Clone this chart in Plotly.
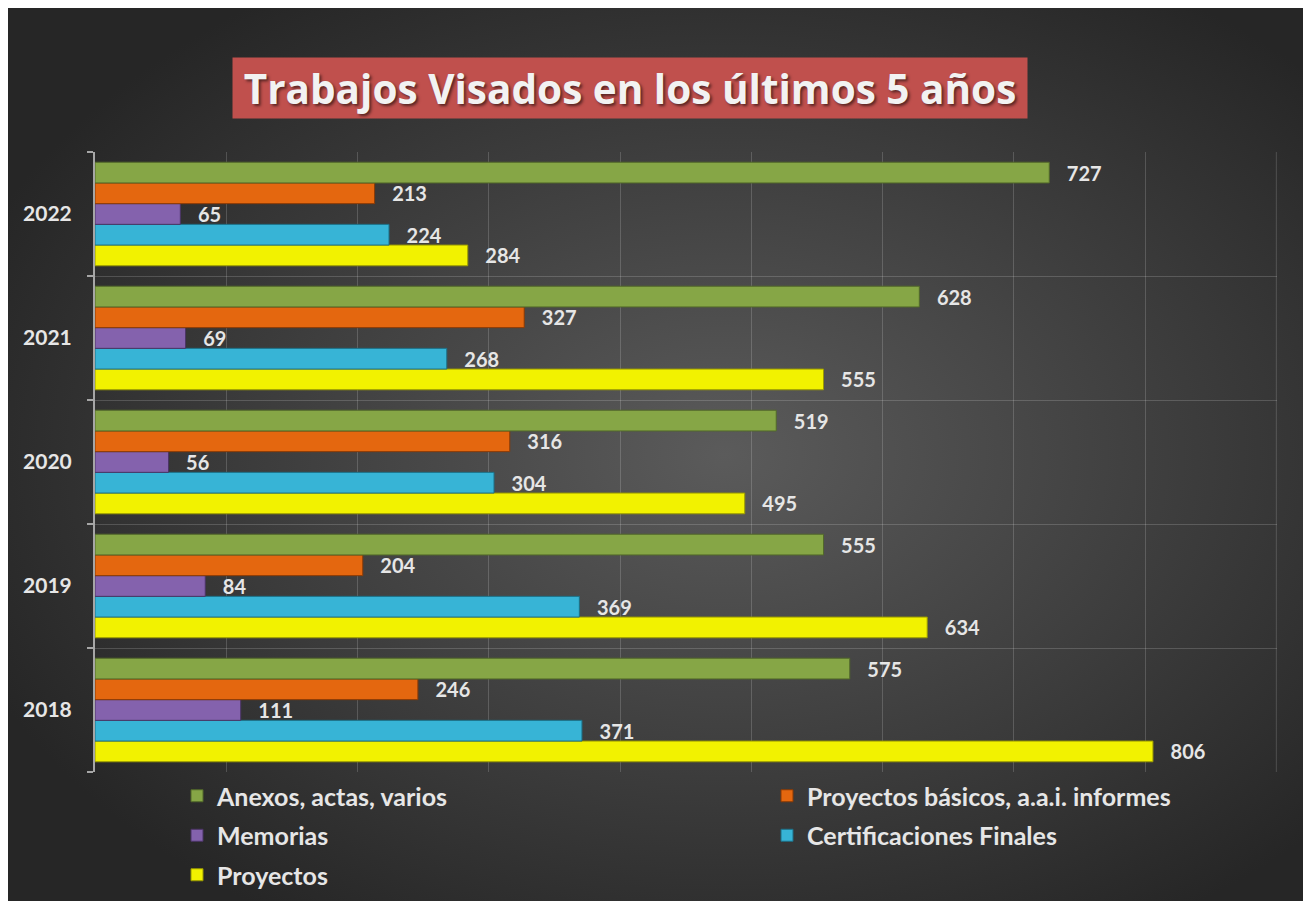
import base64
import plotly.graph_objects as go

years = ["2018", "2019", "2020", "2021", "2022"]
anexos = [575, 555, 519, 628, 727]
basicos = [246, 204, 316, 327, 213]
memorias = [111, 84, 56, 69, 65]
certificaciones = [371, 369, 304, 268, 224]
proyectos = [806, 634, 495, 555, 284]

# (name, values, fill, edge, legend, rank) -- bottom-most bar first
series = [
    ("Proyectos", proyectos, "#f2f200", "#9a9a00", "legend", 5),
    ("Certificaciones Finales", certificaciones, "#37b4d6", "#1d6f86", "legend2", 4),
    ("Memorias", memorias, "#8462ad", "#4b3566", "legend", 3),
    ("Proyectos básicos, a.a.i. informes", basicos, "#e4670f", "#8a3a05", "legend2", 2),
    ("Anexos, actas, varios", anexos, "#86a646", "#52692a", "legend", 1),
]

FONT = "Lato"
TXT = "#e6e6e6"
GRID = "rgba(255,255,255,0.17)"

fig = go.Figure()
for name, vals, fill, edge, leg, rank in series:
    fig.add_trace(go.Bar(
        y=years, x=vals, name=name, orientation="h",
        marker=dict(color=fill, line=dict(color=edge, width=1)),
        text=[f"   {v}" for v in vals], textposition="outside",
        constraintext="none", cliponaxis=False,
        textfont=dict(family=FONT, size=20, color=TXT, weight="bold"),
        legend=leg, legendgroup=name, legendrank=rank,
    ))

W, H = 1303, 893
L, R, T, B = 87, 1269, 144, 764
pw, ph = R - L, B - T

def px(x):
    return (x - L) / pw

def py(y):
    return (B - y) / ph

svg = (
    f'<svg xmlns="http://www.w3.org/2000/svg" width="{W}" height="{H}" preserveAspectRatio="none">'
    '<defs><radialGradient id="g" cx="0.55" cy="0.5" r="0.62">'
    '<stop offset="0" stop-color="#5b5b5b"/><stop offset="1" stop-color="#262626"/>'
    f'</radialGradient></defs><rect width="{W}" height="{H}" fill="url(#g)"/></svg>'
)
src = "data:image/svg+xml;base64," + base64.b64encode(svg.encode()).decode()

legfont = dict(family=FONT, size=25, color=TXT, weight="bold")

fig.update_layout(
    width=W, height=H,
    margin=dict(l=L, r=W - R, t=T, b=H - B, autoexpand=False),
    paper_bgcolor="#333333", plot_bgcolor="rgba(0,0,0,0)",
    barmode="group", bargap=0.165, bargroupgap=0,
    font=dict(family=FONT, color=TXT),
    images=[dict(source=src, xref="paper", yref="paper", x=px(0), y=py(0),
                 sizex=W / pw, sizey=H / ph, xanchor="left", yanchor="top",
                 sizing="stretch", layer="below")],
    xaxis=dict(range=[0, 900.5], dtick=100, showgrid=True, gridcolor=GRID,
               gridwidth=1, zeroline=False, showticklabels=False, showline=False, fixedrange=True),
    yaxis=dict(type="category", categoryorder="array", categoryarray=years,
               tickson="boundaries", showgrid=True, gridcolor=GRID,
               showline=True, linecolor="#a6a6a6", linewidth=2, ticks="outside", ticklen=6,
               tickcolor="#a6a6a6", tickwidth=2, ticklabelstandoff=17,
               tickfont=dict(family=FONT, size=21, color=TXT, weight="bold")),
    shapes=[dict(type="line", xref="x", yref="paper", x0=900, x1=900, y0=0, y1=1,
                 line=dict(color=GRID, width=1), layer="below")],
    legend=dict(x=px(169), y=py(765), xanchor="left", yanchor="top", orientation="v",
                traceorder="grouped", tracegroupgap=4, bgcolor="rgba(0,0,0,0)", font=legfont),
    legend2=dict(x=px(759), y=py(765), xanchor="left", yanchor="top", orientation="v",
                 traceorder="grouped", tracegroupgap=4, bgcolor="rgba(0,0,0,0)", font=legfont),
    annotations=[dict(
        text="Trabajos Visados en los últimos 5 años", xref="paper", yref="paper",
        x=px(622), y=py(80), xanchor="center", yanchor="middle", showarrow=False,
        width=794, height=60, bgcolor="#c0504d", borderpad=0,
        font=dict(family="Open Sans", size=40.5, color="#f2f2f2", weight="bold",
                  shadow="2px 2px 3px rgba(0,0,0,0.55)"),
    )],
)

fig.write_html("out.html")
